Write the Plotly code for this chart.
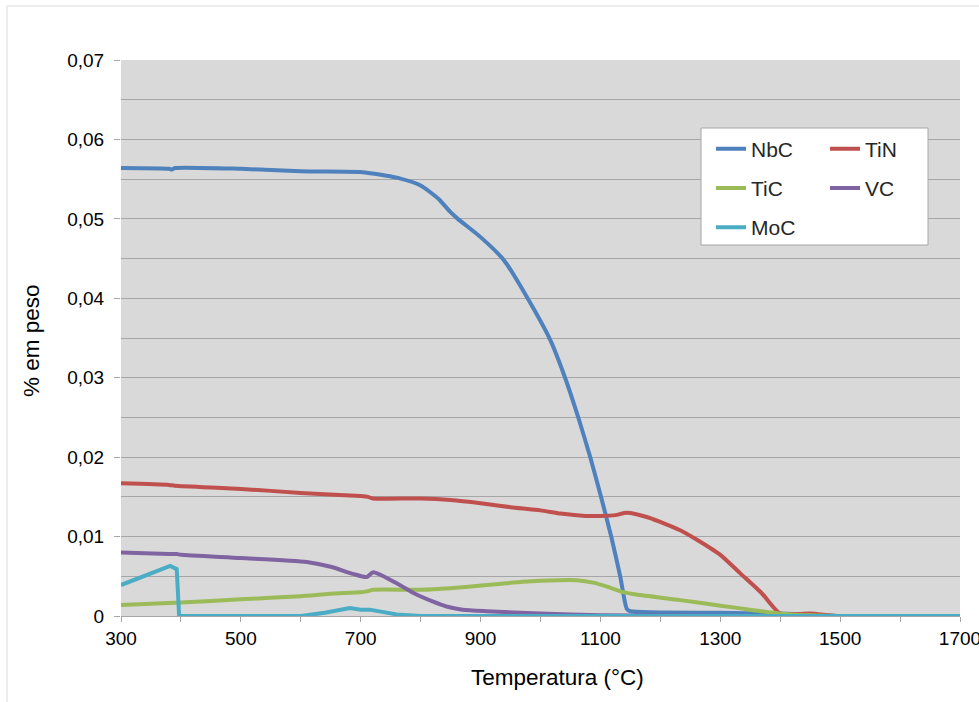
import plotly.graph_objects as go

# ---------------- data ----------------
nbc_t = [300, 380, 385, 390, 500, 600, 700, 720, 765, 800, 830, 849, 862, 900, 939, 977, 1016, 1041, 1063, 1083, 1101, 1118, 1133, 1144, 1150, 1300, 1400, 1450, 1500, 1700]
nbc_v = [0.0564, 0.0563, 0.0562, 0.0564, 0.0563, 0.0560, 0.0559, 0.0557, 0.0551, 0.0542, 0.0525, 0.0509, 0.0500, 0.0477, 0.0448, 0.0402, 0.0348, 0.0300, 0.0250, 0.0200, 0.0150, 0.0100, 0.0050, 0.0009, 0.0006, 0.0004, 0.0003, 0.0002, 0.0, 0.0]

tin_t = [300, 380, 390, 500, 600, 700, 712, 720, 800, 850, 900, 950, 1000, 1033, 1075, 1100, 1125, 1144, 1180, 1233, 1261, 1300, 1333, 1370, 1400, 1450, 1500, 1700]
tin_v = [0.0167, 0.0165, 0.0164, 0.0160, 0.0155, 0.0151, 0.0150, 0.0148, 0.0148, 0.0146, 0.0142, 0.0137, 0.0133, 0.0129, 0.0126, 0.0126, 0.0127, 0.0130, 0.0124, 0.0108, 0.0096, 0.0077, 0.0054, 0.0028, 0.0003, 0.0003, 0.0, 0.0]

tic_t = [300, 400, 500, 600, 649, 700, 710, 721, 800, 849, 910, 970, 1030, 1060, 1088, 1115, 1138, 1160, 1233, 1300, 1350, 1400, 1450, 1500, 1700]
tic_v = [0.0014, 0.0017, 0.0021, 0.0025, 0.0028, 0.0030, 0.0031, 0.0033, 0.0033, 0.0035, 0.0039, 0.0043, 0.0045, 0.0045, 0.0042, 0.0036, 0.0030, 0.0027, 0.0020, 0.0013, 0.0008, 0.0003, 0.0001, 0.0, 0.0]

vc_t = [300, 380, 393, 400, 500, 610, 650, 687, 710, 721, 765, 788, 821, 843, 870, 910, 1000, 1100, 1200, 1300, 1700]
vc_v = [0.0080, 0.0078, 0.0078, 0.0077, 0.0073, 0.0068, 0.0062, 0.0053, 0.0049, 0.0055, 0.0039, 0.0029, 0.0018, 0.0012, 0.0008, 0.0006, 0.0003, 0.0001, 0.00005, 0.0, 0.0]

moc_t = [300, 382, 393, 397, 600, 640, 682, 700, 715, 730, 760, 800, 1700]
moc_v = [0.0039, 0.0063, 0.0059, 0.0, 0.0, 0.0004, 0.0010, 0.0008, 0.0008, 0.0006, 0.0002, 0.0, 0.0]

y_tickvals = [0, 0.01, 0.02, 0.03, 0.04, 0.05, 0.06, 0.07]
y_ticktext = ["0", "0,01", "0,02", "0,03", "0,04", "0,05", "0,06", "0,07"]
x_tickvals = [300, 500, 700, 900, 1100, 1300, 1500, 1700]

series = [
    ("NbC", nbc_t, nbc_v, "#4f81bd", "legend", "spline"),
    ("TiN", tin_t, tin_v, "#c0504d", "legend2", "spline"),
    ("TiC", tic_t, tic_v, "#9bbb59", "legend", "spline"),
    ("VC", vc_t, vc_v, "#8064a2", "legend2", "spline"),
    ("MoC", moc_t, moc_v, "#4bacc6", "legend", "linear"),
]

FONT = "Liberation Sans, Arial, sans-serif"
W, H = 979, 702
L, R, T, B = 121, 19, 60, 86
PW, PH = W - L - R, H - T - B

def px_x(p):
    return (p - L) / PW

def px_y(p):
    return (H - B - p) / PH

fig = go.Figure()
for name, t, v, col, lg, shape in series:
    line = dict(color=col, width=4, shape=shape)
    if shape == "spline":
        line["smoothing"] = 0.6
    fig.add_trace(go.Scatter(
        x=t, y=v, mode="lines", name=name,
        line=line,
        legend=lg, legendgroup=name,
    ))

fig.update_layout(
    width=W, height=H,
    margin=dict(l=L, r=R, t=T, b=B, autoexpand=False),
    paper_bgcolor="white",
    plot_bgcolor="#d9d9d9",
    font=dict(family=FONT, color="#000000", size=19),
    xaxis=dict(
        range=[300, 1700], tickvals=x_tickvals, ticks="outside", ticklen=5,
        tickcolor="#a6a6a6", showgrid=False, zeroline=False,
        showline=True, linecolor="#a6a6a6", linewidth=1,
        tickfont=dict(size=19, family=FONT, color="#000"),
        ticklabeloverflow="allow",
        minor=dict(dtick=100, tick0=300, ticks="outside", ticklen=5, tickcolor="#a6a6a6", showgrid=False),
        fixedrange=True,
    ),
    yaxis=dict(
        range=[0, 0.07], tickvals=y_tickvals, ticktext=y_ticktext,
        ticks="outside", ticklen=6, tickcolor="#a6a6a6",
        showgrid=True, gridcolor="#a6a6a6", gridwidth=1, zeroline=False,
        tickfont=dict(size=19, family=FONT, color="#000"),
        ticklabelstandoff=6,
        minor=dict(dtick=0.005, tick0=0, showgrid=True, gridcolor="#a6a6a6", gridwidth=1, ticks=""),
        fixedrange=True,
    ),
    legend=dict(
        xref="paper", yref="paper", x=px_x(711), y=px_y(128.5),
        xanchor="left", yanchor="top", bgcolor="rgba(0,0,0,0)", borderwidth=0,
        font=dict(family=FONT, size=21, color="#262626"), tracegroupgap=9,
    ),
    legend2=dict(
        xref="paper", yref="paper", x=px_x(825), y=px_y(128.5),
        xanchor="left", yanchor="top", bgcolor="rgba(0,0,0,0)", borderwidth=0,
        font=dict(family=FONT, size=21, color="#262626"), tracegroupgap=9,
    ),
    shapes=[
        dict(type="rect", xref="paper", yref="paper",
             x0=px_x(701), x1=px_x(928), y0=px_y(245), y1=px_y(128),
             fillcolor="white", line=dict(color="#a6a6a6", width=1), layer="above"),
        dict(type="rect", xref="paper", yref="paper",
             x0=px_x(7), x1=px_x(990), y0=px_y(712), y1=px_y(6),
             fillcolor="rgba(0,0,0,0)", line=dict(color="#d9d9d9", width=1), layer="below"),
    ],
    annotations=[
        dict(text="Temperatura (°C)", xref="paper", yref="paper",
             x=px_x(557), y=px_y(677), xanchor="center", yanchor="middle",
             showarrow=False, font=dict(family=FONT, size=22.5, color="#000")),
        dict(text="% em peso", xref="paper", yref="paper",
             x=px_x(31), y=px_y(341), xanchor="center", yanchor="middle",
             textangle=-90, showarrow=False, font=dict(family=FONT, size=22.5, color="#000")),
    ],
    showlegend=True,
)

fig.write_html("out.html")
